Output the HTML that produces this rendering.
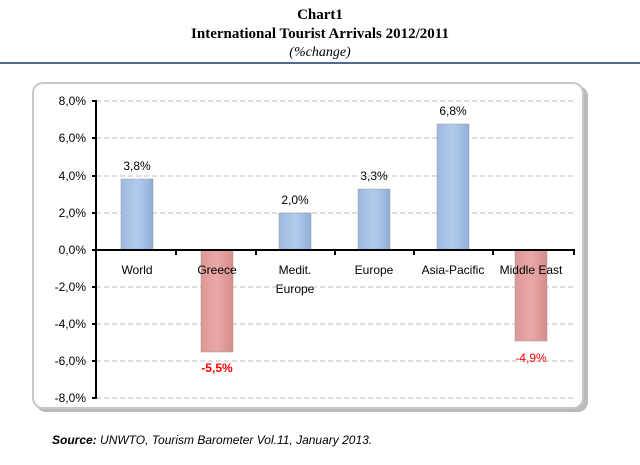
<!DOCTYPE html><html><head><style>body{margin:0;width:640px;height:460px;background:#fff;overflow:hidden;font-family:"Liberation Sans",sans-serif}</style></head><body>
<svg width="640" height="460" xmlns="http://www.w3.org/2000/svg">
<defs><linearGradient id="b" x1="0" x2="1"><stop offset="0" stop-color="#9cb9e0"/><stop offset="0.5" stop-color="#b3cbeb"/><stop offset="1" stop-color="#8fb0da"/></linearGradient>
<linearGradient id="r" x1="0" x2="1"><stop offset="0" stop-color="#dd9694"/><stop offset="0.5" stop-color="#e8a9a7"/><stop offset="1" stop-color="#d68c8a"/></linearGradient></defs>
<g font-family="Liberation Serif,serif" text-anchor="middle" fill="#000">
<text x="320" y="19" font-size="15" font-weight="bold">Chart1</text>
<text x="320" y="38" font-size="15" font-weight="bold">International Tourist Arrivals 2012/2011</text>
<text x="320" y="56" font-size="14" font-style="italic">(%change)</text></g>
<line x1="0" y1="63" x2="640" y2="63" stroke="#4f6a8f" stroke-width="2"/>
<rect x="36" y="86" width="552" height="326" rx="10" fill="#bbb"/>
<rect x="33" y="83" width="550" height="325" rx="10" fill="#fff" stroke="#c8c8c8" stroke-width="2"/>
<g stroke="#bdbdbd" stroke-dasharray="5,3">
<line x1="96" y1="101" x2="575" y2="101"/><line x1="96" y1="138" x2="575" y2="138"/><line x1="96" y1="176" x2="575" y2="176"/><line x1="96" y1="213" x2="575" y2="213"/>
<line x1="96" y1="287" x2="575" y2="287"/><line x1="96" y1="324" x2="575" y2="324"/><line x1="96" y1="361" x2="575" y2="361"/><line x1="96" y1="398" x2="575" y2="398"/></g>
<g stroke="#999" stroke-width="0.5">
<rect x="121" y="179" width="32" height="71" fill="url(#b)"/>
<rect x="201" y="250" width="32" height="102" fill="url(#r)"/>
<rect x="279" y="213" width="32" height="37" fill="url(#b)"/>
<rect x="358" y="189" width="32" height="61" fill="url(#b)"/>
<rect x="437" y="124" width="32" height="126" fill="url(#b)"/>
<rect x="515" y="250" width="32" height="91" fill="url(#r)"/></g>
<g stroke="#000" stroke-width="2"><line x1="96" y1="100" x2="96" y2="399"/><line x1="96" y1="250" x2="575" y2="250"/>
<line x1="92" y1="101" x2="96" y2="101"/><line x1="92" y1="138" x2="96" y2="138"/><line x1="92" y1="176" x2="96" y2="176"/><line x1="92" y1="213" x2="96" y2="213"/><line x1="92" y1="250" x2="96" y2="250"/><line x1="92" y1="287" x2="96" y2="287"/><line x1="92" y1="324" x2="96" y2="324"/><line x1="92" y1="361" x2="96" y2="361"/><line x1="92" y1="398" x2="96" y2="398"/>
<line x1="176" y1="250" x2="176" y2="255"/><line x1="256" y1="250" x2="256" y2="255"/><line x1="335" y1="250" x2="335" y2="255"/><line x1="414" y1="250" x2="414" y2="255"/><line x1="493" y1="250" x2="493" y2="255"/><line x1="574" y1="250" x2="574" y2="255"/></g>
<g font-size="12" text-anchor="end"><text x="86" y="105">8,0%</text><text x="86" y="142">6,0%</text><text x="86" y="180">4,0%</text><text x="86" y="217">2,0%</text><text x="86" y="254">0,0%</text><text x="86" y="291">-2,0%</text><text x="86" y="328">-4,0%</text><text x="86" y="365">-6,0%</text><text x="86" y="402">-8,0%</text></g>
<g font-size="12" text-anchor="middle"><text x="137" y="274">World</text><text x="217" y="274">Greece</text><text x="295" y="274">Medit.</text><text x="295" y="293">Europe</text><text x="374" y="274">Europe</text><text x="453" y="274">Asia-Pacific</text><text x="531" y="274">Middle East</text>
<text x="137" y="170">3,8%</text><text x="295" y="204">2,0%</text><text x="374" y="180">3,3%</text><text x="453" y="115">6,8%</text>
<text x="217" y="372" fill="#f00" font-weight="bold">-5,5%</text><text x="531" y="362" fill="#f00">-4,9%</text></g>
<text x="52" y="444" font-size="12" font-style="italic"><tspan font-weight="bold">Source:</tspan> UNWTO, Tourism Barometer Vol.11, January 2013.</text>
</svg></body></html>
